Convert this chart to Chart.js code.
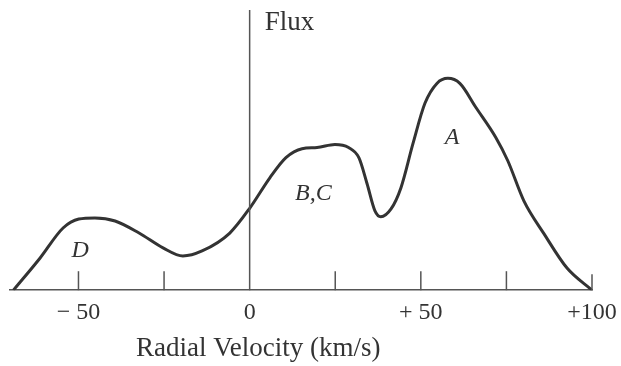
<!DOCTYPE html>
<html>
<head>
<meta charset="utf-8">
<script src="https://cdn.jsdelivr.net/npm/chart.js@4/dist/chart.umd.min.js"></script>
<style>
  html, body { margin: 0; padding: 0; background: #fff; }
  #wrap { width: 621px; height: 366px; position: relative; }
</style>
</head>
<body>
<div id="wrap"><canvas id="c"></canvas></div>
<script>
// Profil de raie : vitesse radiale (km/s) et flux (unités arbitraires)
const velocity = [-69, -61.2, -54.5, -49.9, -45.2, -39.3, -32.3, -25.3, -19.5, -13.9, -5.8, 0.1,
  5.9, 10.6, 15.3, 19.7, 24.9, 28.9, 31.9, 34.3, 36.6, 38.3, 41.3, 44.2, 47.7, 51.2, 54.7,
  57.9, 61.4, 66.1, 71.9, 75.4, 80.1, 86.0, 92.7, 100];
const flux = [0, 11.5, 22.2, 25.4, 25.8, 24.7, 20.4, 15.1, 12.2, 14.0, 20.4, 29.4,
  40.1, 47.3, 50.5, 50.9, 52.0, 50.9, 47.3, 38.0, 28.3, 26.2, 29.0, 36.6, 52.3, 66.7, 73.8,
  75.6, 73.8, 65.2, 54.5, 46.2, 31.9, 20.1, 7.9, 0];

// graduations de l'axe x
const tickValues = [-50, 0, 50, 100];
const tickLabels = ['\u2212 50', '0', '+ 50', '+100'];
const markValues = [-50, -25, 25, 50, 75, 100];

// composantes nommées (position en unités de données)
const peakNames = ['D', 'B,C', 'A'];
const peakVelocity = [-49.5, 18.6, 59.1];
const peakFlux = [14, 34.4, 54.5];

const INK = '#333';
const SERIF = '"Liberation Serif", "DejaVu Serif", serif';

// plugin : axe vertical, petites graduations, étiquettes et titres
const sketchAxesPlugin = {
  id: 'sketchAxes',
  afterDatasetsDraw(chart) {
    const { ctx, chartArea, scales } = chart;
    const x = scales.x, y = scales.y;
    const x0 = x.getPixelForValue(0);
    ctx.save();
    ctx.strokeStyle = '#555';
    ctx.lineWidth = 1.5;
    ctx.beginPath();
    ctx.moveTo(x0, chartArea.top);
    ctx.lineTo(x0, chartArea.bottom);
    ctx.stroke();

    markValues.forEach(v => {
      const px = x.getPixelForValue(v);
      ctx.beginPath();
      ctx.moveTo(px, chartArea.bottom);
      ctx.lineTo(px, chartArea.bottom - (v === 100 ? 16 : 19));
      ctx.stroke();
    });

    ctx.fillStyle = INK;
    ctx.textBaseline = 'middle';
    ctx.textAlign = 'left';
    ctx.font = '27px ' + SERIF;
    ctx.fillText('Flux', x0 + 15, chartArea.top + 13);

    ctx.textAlign = 'center';
    ctx.fillText('Radial Velocity (km/s)', x.getPixelForValue(2.5), 349);

    ctx.font = 'italic 24px ' + SERIF;
    peakNames.forEach((name, i) => {
      ctx.fillText(name, x.getPixelForValue(peakVelocity[i]), y.getPixelForValue(peakFlux[i]));
    });
    ctx.restore();
  }
};

new Chart(document.getElementById('c'), {
  type: 'line',
  data: {
    datasets: [{
      data: velocity.map((v, i) => ({ x: v, y: flux[i] })),
      borderColor: INK,
      borderWidth: 3,
      pointRadius: 0,
      cubicInterpolationMode: 'monotone',
      fill: false
    }]
  },
  options: {
    responsive: true,
    maintainAspectRatio: false,
    animation: false,
    layout: { padding: { left: 10, right: 29, top: 10, bottom: 39 } },
    plugins: { legend: { display: false }, tooltip: { enabled: false } },
    scales: {
      x: {
        type: 'linear',
        min: -70,
        max: 100,
        grid: { display: false },
        border: { display: true, color: '#555', width: 1.5 },
        afterBuildTicks: (axis) => { axis.ticks = tickValues.map(v => ({ value: v })); },
        ticks: {
          padding: 0,
          maxRotation: 0,
          color: INK,
          font: { family: SERIF, size: 24 },
          callback: (value) => tickLabels[tickValues.indexOf(value)]
        }
      },
      y: { display: false, min: 0, max: 100 }
    }
  },
  plugins: [sketchAxesPlugin]
});
</script>
</body>
</html>
